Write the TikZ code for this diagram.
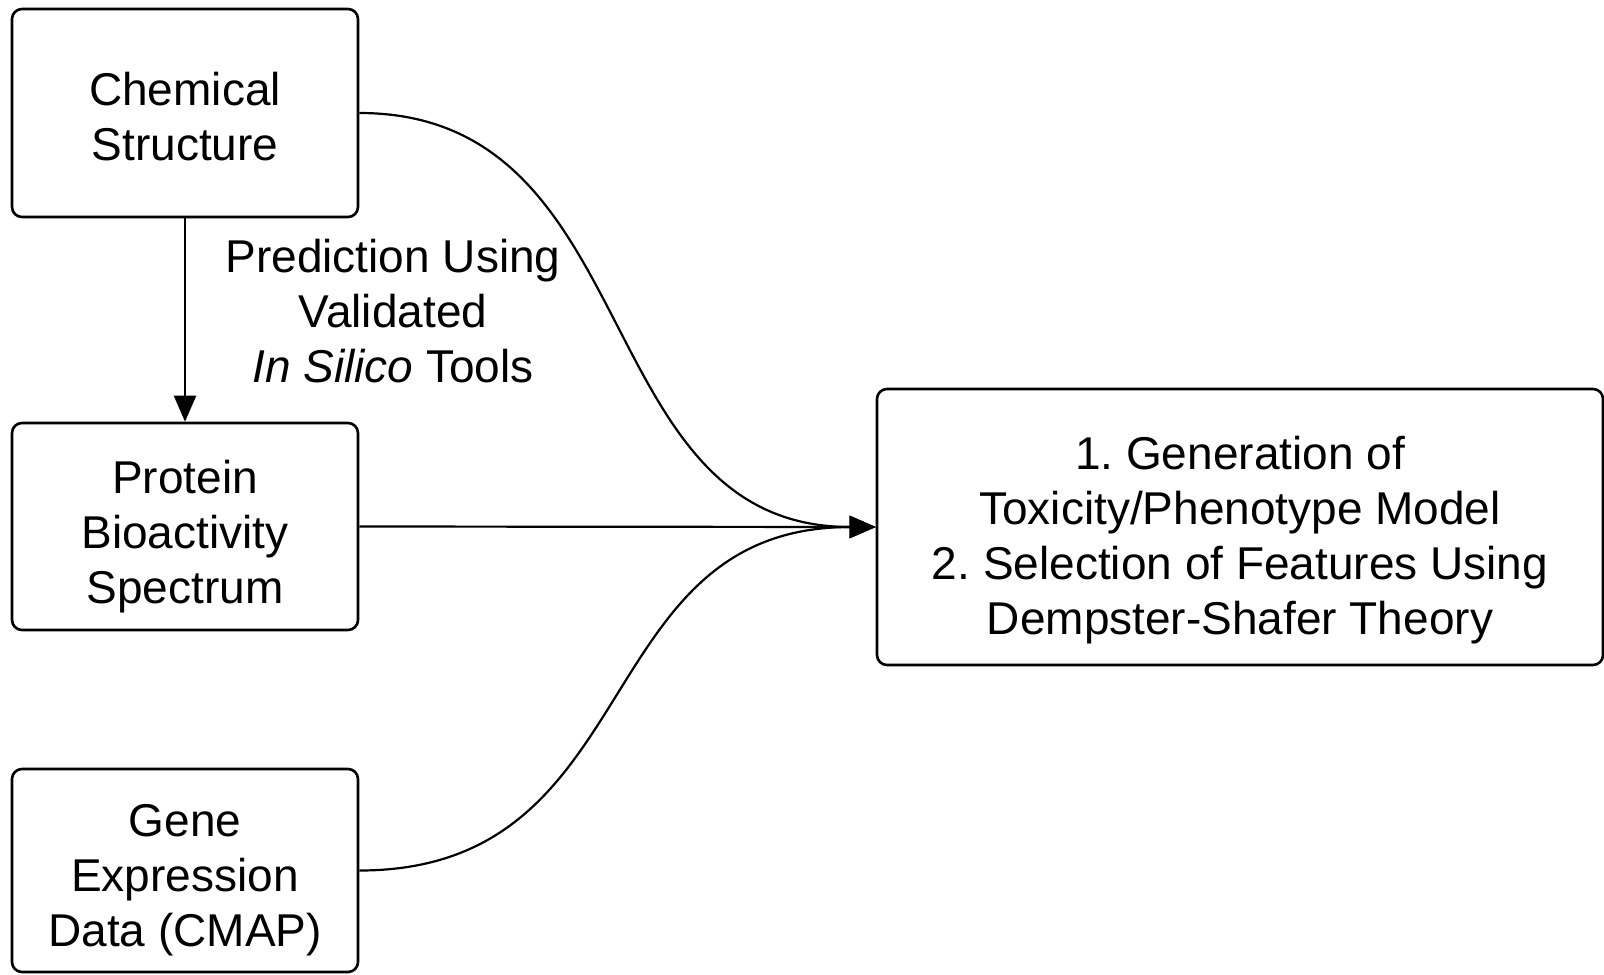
\documentclass[tikz,border=0pt]{standalone}
\usepackage{fontspec}
\setmainfont{Liberation Sans}
\usetikzlibrary{arrows.meta}
\begin{document}
\begin{tikzpicture}[x=0.5pt,y=-0.5pt,
  box/.style={draw, line width=1.3pt, rounded corners=5pt, inner sep=0pt},
  txt/.style={align=center, inner sep=0pt, font=\fontsize{23}{27.5}\selectfont},
  conn/.style={line width=1.1pt, -{Triangle[length=13pt,width=11pt]}}]
\useasboundingbox (0,0) rectangle (1604,974);
\node[box, minimum width=173pt, minimum height=104pt] (chem) at (185,113) {};
\node[box, minimum width=173pt, minimum height=103.5pt] (prot) at (185,526.5) {};
\node[box, minimum width=173pt, minimum height=101.5pt] (gene) at (185,870.5) {};
\node[box, minimum width=363pt, minimum height=138pt] (model) at (1240,527) {};
\node[txt] (chemtxt) at ([yshift=-2pt]chem.center) {Chemical\\Structure};
\node[txt] (prottxt) at ([yshift=-5pt]prot.center) {Protein\\Bioactivity\\Spectrum};
\node[txt] (genetxt) at ([yshift=-5pt]gene.center) {Gene\\Expression\\Data (CMAP)};
\node[txt] (modeltxt) at ([yshift=-6.5pt]model.center) {1.\ Generation of\\Toxicity/Phenotype Model\\2.\ Selection of Features Using\\Dempster-Shafer Theory};
\node[txt] (pred) at (393,311) {Prediction Using\\Validated\\\textit{In Silico} Tools};
\draw[conn] (chem.south) -- (prot.north);
\draw[conn] (chem.east) .. controls +(290,0) and +(-290,0) .. (model.west);
\draw[conn] (prot.east) -- (model.west);
\draw[conn] (gene.east) .. controls +(290,0) and +(-290,0) .. (model.west);
\end{tikzpicture}
\end{document}
